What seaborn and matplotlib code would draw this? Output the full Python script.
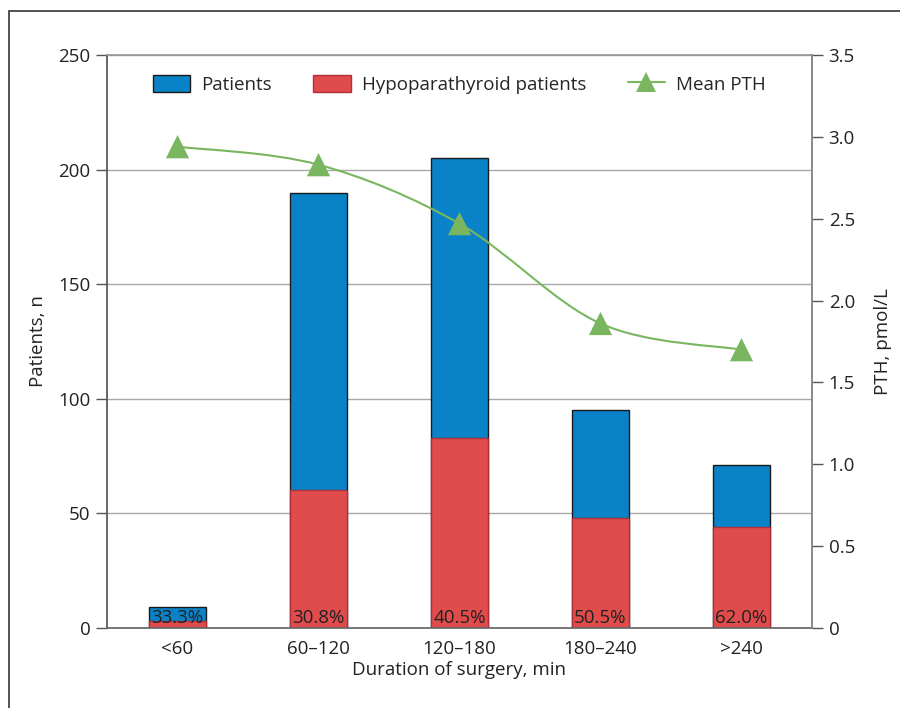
import numpy as np
import pandas as pd
import seaborn as sns
import matplotlib.pyplot as plt
from matplotlib.path import Path
from matplotlib.patches import PathPatch, Patch, Rectangle
from matplotlib.lines import Line2D
from matplotlib.ticker import FuncFormatter

durations = ["<60", "60\u2013120", "120\u2013180", "180\u2013240", ">240"]
patients = [9, 190, 205, 95, 71]
hypo_patients = [3, 60, 83, 48, 44]
hypo_pct = ["33.3%", "30.8%", "40.5%", "50.5%", "62.0%"]
mean_pth = [2.94, 2.83, 2.47, 1.86, 1.70]

df = pd.DataFrame({"Duration": durations, "Patients": patients,
                   "Hypo": hypo_patients, "PTH": mean_pth})

sns.set_theme(style="white")
plt.rcParams["font.family"] = ["Open Sans", "DejaVu Sans"]

blue = "#0a82c8"
red = "#e04c4c"
green = "#79b65f"
txt = "#222222"
fs = 13.5

fig = plt.figure(figsize=(9, 7.08), dpi=100)
ax = fig.add_axes([0.1189, 0.1130, 0.7833, 0.8093])

# outer frame (cut by the image edges like the original)
fig.patches.append(Rectangle((0.01, -0.2), 1.2, 1.184, transform=fig.transFigure,
                             fill=False, edgecolor="#444444", linewidth=1.3))

sns.barplot(data=df, x="Duration", y="Patients", order=durations, color=blue,
            edgecolor="#1a1a1a", linewidth=1.0, width=0.41, saturation=1, ax=ax)
sns.barplot(data=df, x="Duration", y="Hypo", order=durations, color=red,
            edgecolor="#b0303a", linewidth=1.0, width=0.41, saturation=1, ax=ax)

for i, p in enumerate(hypo_pct):
    ax.text(i, 0.3, p, ha="center", va="bottom", fontsize=fs, color=txt)

ax.set_xlim(-0.5, 4.5)
ax.set_ylim(0, 250)
ax.set_yticks(range(0, 251, 50))
ax.yaxis.grid(True, color="#a8a8a8", linewidth=1.0)
ax.set_axisbelow(True)
ax.set_xticks(range(5))
ax.set_xticklabels(durations)
ax.set_xticks(np.arange(-0.5, 5, 1), minor=True)
ax.tick_params(axis="x", which="major", length=0, pad=9, labelsize=fs, labelcolor=txt)
ax.tick_params(axis="x", which="minor", length=8, width=1, color="#666666", direction="out")
ax.tick_params(axis="y", length=8, width=1, color="#555555", direction="out",
               left=True, pad=4, labelsize=fs, labelcolor=txt)
ax.set_xlabel("Duration of surgery, min", fontsize=fs, color=txt, labelpad=2)
ax.set_ylabel("Patients, n", fontsize=fs, color=txt, labelpad=8)
for s in ["top", "right"]:
    ax.spines[s].set_color("#999999")
ax.spines["left"].set_color("#555555")
ax.spines["bottom"].set_color("#666666")

ax2 = ax.twinx()
ax2.set_ylim(0, 3.5)
ax2.set_yticks(np.arange(0, 3.51, 0.5))
ax2.yaxis.set_major_formatter(FuncFormatter(lambda v, _: "0" if v == 0 else f"{v:.1f}"))
ax2.tick_params(axis="y", length=8, width=1, color="#555555", direction="out",
                right=True, pad=4, labelsize=fs, labelcolor=txt)
for s in ["top", "left", "bottom"]:
    ax2.spines[s].set_visible(False)
ax2.spines["right"].set_color("#888888")

# smoothed line (Catmull-Rom style Bezier through the points)
xs = np.arange(len(mean_pth), dtype=float)
ys = np.array(mean_pth)
verts = [(xs[0], ys[0])]
codes = [Path.MOVETO]
n = len(xs)
for i in range(n - 1):
    p0 = (xs[max(i - 1, 0)], ys[max(i - 1, 0)])
    p1 = (xs[i], ys[i])
    p2 = (xs[i + 1], ys[i + 1])
    p3 = (xs[min(i + 2, n - 1)], ys[min(i + 2, n - 1)])
    t = 1 / 6
    c1 = (p1[0] + (p2[0] - p0[0]) * t, p1[1] + (p2[1] - p0[1]) * t)
    c2 = (p2[0] - (p3[0] - p1[0]) * t, p2[1] - (p3[1] - p1[1]) * t)
    verts += [c1, c2, p2]
    codes += [Path.CURVE4] * 3
ax2.add_patch(PathPatch(Path(verts, codes), fill=False, edgecolor=green, linewidth=1.5))
sns.scatterplot(data=df, x=np.arange(n), y="PTH", marker="^", s=280, color=green,
                edgecolor="none", ax=ax2, zorder=5)
ax2.set_ylabel("PTH, pmol/L", fontsize=fs, color=txt, labelpad=14)

handles = [Patch(facecolor=blue, edgecolor="#1a1a1a", label="Patients"),
           Patch(facecolor=red, edgecolor="#b0303a", label="Hypoparathyroid patients"),
           Line2D([], [], color=green, marker="^", markersize=15, markeredgewidth=0,
                  linewidth=1.5, label="Mean PTH")]
ax2.legend(handles=handles, loc="upper center", bbox_to_anchor=(0.5, 0.995), ncol=3,
           frameon=False, fontsize=fs, handlelength=2.0, handleheight=1.0,
           columnspacing=2.2, handletextpad=0.6)

fig.savefig("out.png", dpi=100)
